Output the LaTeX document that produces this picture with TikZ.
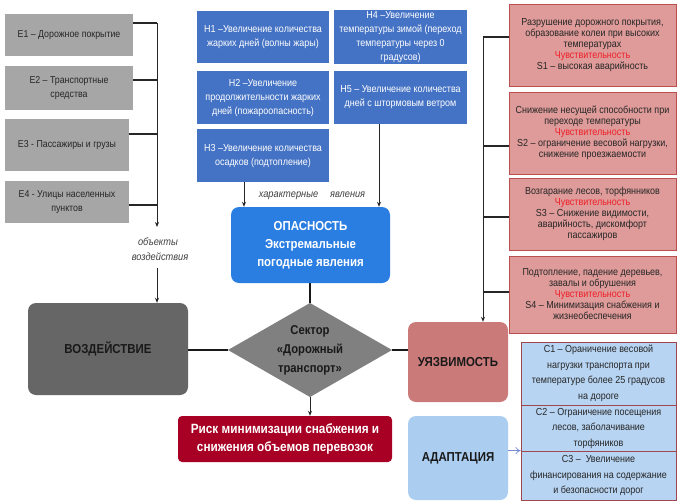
\documentclass[tikz,border=0pt]{standalone}
\usepackage{fontspec}
\setmainfont{Liberation Sans}[FakeStretch=0.88]
\usetikzlibrary{arrows.meta,calc}
\definecolor{egray}{RGB}{166,166,166}
\definecolor{vgray}{RGB}{102,102,102}
\definecolor{dgray}{RGB}{128,128,128}
\definecolor{hblue}{RGB}{68,114,196}
\definecolor{oblue}{RGB}{42,126,226}
\definecolor{rred}{RGB}{168,0,36}
\definecolor{urose}{RGB}{203,122,122}
\definecolor{spink}{RGB}{222,155,153}
\definecolor{sborder}{RGB}{185,80,78}
\definecolor{ablue}{RGB}{170,205,240}
\definecolor{cblue}{RGB}{183,212,242}
\definecolor{cborder}{RGB}{160,70,78}
\definecolor{sred}{RGB}{240,30,40}
\definecolor{arrblue}{RGB}{120,140,210}
\begin{document}
\begin{tikzpicture}[x=1pt,y=-1pt,
  box/.style={draw=none, inner sep=1pt, align=center, anchor=center},
  ebox/.style={box, fill=egray, text=black!85, font=\fontsize{10}{13.5}\selectfont},
  hbox/.style={box, fill=hblue, text=white, font=\fontsize{10.2}{14}\selectfont},
  sbox/.style={box, fill=spink, draw=sborder, line width=0.8pt, text=black!85, font=\fontsize{10.2}{11}\selectfont},
  cbox/.style={box, fill=cblue, draw=cborder, line width=0.8pt, text=black!85, font=\fontsize{10.2}{15.5}\selectfont},
  bigbox/.style={box, rounded corners=8pt, font=\bfseries\fontsize{13}{18}\selectfont},
  lbl/.style={font=\itshape\fontsize{10.5}{10}\selectfont, text=black!75, inner sep=0pt},
  conn/.style={line width=1.3pt, black!85},
  thickconn/.style={line width=2pt, black!90},
  arr/.style={line width=0.9pt, black!85, -{Stealth[length=5pt,width=4pt]}}
]
\useasboundingbox[fill=white] (0,0) rectangle (677,501);

% E boxes
\node[ebox, minimum width=128pt, minimum height=42pt] (E1) at (69,35) {E1 – Дорожное покрытие};
\node[ebox, minimum width=128pt, minimum height=44pt] (E2) at (69,88) {E2 – Транспортные\\средства};
\node[ebox, minimum width=124pt, minimum height=52pt] (E3) at (67,145) {E3 - Пассажиры и грузы};
\node[ebox, minimum width=124pt, minimum height=42pt] (E4) at (67,202) {E4 - Улицы населенных\\пунктов};

\coordinate (b1) at (157,23);
\coordinate (b2) at (157,80);
\coordinate (b3) at (157,134);
\coordinate (b4) at (157,205);
\coordinate (bend) at (157,227);
\draw[conn] (E1.east |- b1) -- (b1);
\draw[conn] (E2.east |- b2) -- (b2);
\draw[conn] (E3.east |- b3) -- (b3);
\draw[conn] (E4.east |- b4) -- (b4);
\draw[arr] (b1) -- (bend);
\node[lbl] (obj1) at (158,242) {объекты};
\node[lbl] (obj2) at (160,257) {воздействия};

% H boxes
\node[hbox, minimum width=132pt, minimum height=52pt] (H1) at (263,37) {H1 –Увеличение количества\\жарких дней (волны жары)};
\node[hbox, minimum width=132pt, minimum height=53pt] (H2) at (263,97.5) {H2 –Увеличение\\продолжительности жарких\\дней (пожароопасность)};
\node[hbox, minimum width=132pt, minimum height=53pt] (H3) at (263,155.5) {H3 –Увеличение количества\\осадков (подтопление)};
\node[hbox, minimum width=133pt, minimum height=52pt] (H4) at (400.5,37) {H4 –Увеличение\\температуры зимой (переход\\температуры через 0\\градусов)};
\node[hbox, minimum width=133pt, minimum height=53pt] (H5) at (400.5,97.5) {H5 – Увеличение количества\\дней с штормовым ветром};

% Hazard
\node[bigbox, fill=oblue, text=white, minimum width=159pt, minimum height=76pt] (OP) at (310.5,245) {ОПАСНОСТЬ\\Экстремальные\\погодные явления};
\draw[arr] (H3.south -| 244,0) -- (OP.north -| 244,0);
\draw[arr] (H5.south -| 379,0) -- (OP.north -| 379,0);
\node[lbl] (char) at (312,196) {характерные\hspace{12pt}явления};

% Impact
\node[bigbox, fill=vgray, text=black!90, minimum width=160pt, minimum height=92pt] (VOZ) at (108,349) {ВОЗДЕЙСТВИЕ};
\draw[arr] (157,268) -- (VOZ.north -| 157,0);

% Diamond
\coordinate (dL) at (228,350);
\coordinate (dT) at (310,303);
\coordinate (dR) at (392,350);
\coordinate (dB) at (310,397);
\fill[dgray] (dL) -- (dT) -- (dR) -- (dB) -- cycle;
\node[box, font=\bfseries\fontsize{12.8}{19}\selectfont, text=black!90] (SEC) at (310,350) {Сектор\\«Дорожный\\транспорт»};

% Risk
\node[box, fill=rred, text=white, rounded corners=4pt, font=\bfseries\fontsize{13.4}{18}\selectfont, minimum width=214pt, minimum height=46pt] (RISK) at (285,439) {Риск минимизации снабжения и\\снижения объемов перевозок};

% Vulnerability and adaptation
\node[bigbox, fill=urose, text=black!90, minimum width=100pt, minimum height=80pt] (UY) at (458,362) {УЯЗВИМОСТЬ};
\node[bigbox, fill=ablue, text=black!90, minimum width=100pt, minimum height=84pt] (AD) at (458,458) {АДАПТАЦИЯ};

\draw[thickconn] (OP.south -| dT) -- (dT);
\draw[thickconn] (VOZ.east |- dL) -- (dL);
\draw[thickconn] (dR) -- (UY.west |- dR);
\draw[arr] (dB) -- (RISK.north -| dB);

% S boxes
\node[sbox, minimum width=167pt, minimum height=82pt] (S1) at (592.5,45) {Разрушение дорожного покрытия,\\образование колеи при высоких\\температурах\\\textcolor{sred}{Чувствительность}\\S1 – высокая аварийность};
\node[sbox, minimum width=167pt, minimum height=82pt] (S2) at (592.5,133) {Снижение несущей способности при\\переходе температуры\\\textcolor{sred}{Чувствительность}\\S2 – ограничение весовой нагрузки,\\снижение проезжаемости};
\node[sbox, minimum width=167pt, minimum height=72pt] (S3) at (592.5,214) {Возгарание лесов, торфянников\\\textcolor{sred}{Чувствительность}\\S3 – Снижение видимости,\\аварийность, дискомфорт\\пассажиров};
\node[sbox, minimum width=167pt, minimum height=77pt] (S4) at (592.5,294.5) {Подтопление, падение деревьев,\\завалы и обрушения\\\textcolor{sred}{Чувствительность}\\S4 – Минимизация снабжения и\\жизнеобеспечения};

\coordinate (v1) at (483,37);
\coordinate (v2) at (483,146);
\coordinate (v3) at (483,217);
\coordinate (v4) at (483,292);
\draw[conn] (S1.west |- v1) -- (v1);
\draw[conn] (S2.west |- v2) -- (v2);
\draw[conn] (S3.west |- v3) -- (v3);
\draw[conn] (S4.west |- v4) -- (v4);
\draw[arr] (v1) -- (UY.north -| v1);

% C boxes
\node[cbox, minimum width=155pt, minimum height=63pt] (C1) at (598.5,373.5) {C1 – Ораничение весовой\\нагрузки транспорта при\\температуре более 25 градусов\\на дороге};
\node[cbox, minimum width=155pt, minimum height=46pt] (C2) at (598.5,428) {C2 – Ограничение посещения\\лесов, заболачивание\\торфяников};
\node[cbox, minimum width=155pt, minimum height=49pt] (C3) at (598.5,475.5) {C3 –\ \ Увеличение\\финансирования на содержание\\и безопасности дорог};
\draw[line width=0.7pt, arrblue, -{To[length=5pt,width=7pt]}] (AD.east |- C3.north west) -- (C3.north west);
\end{tikzpicture}
\end{document}
